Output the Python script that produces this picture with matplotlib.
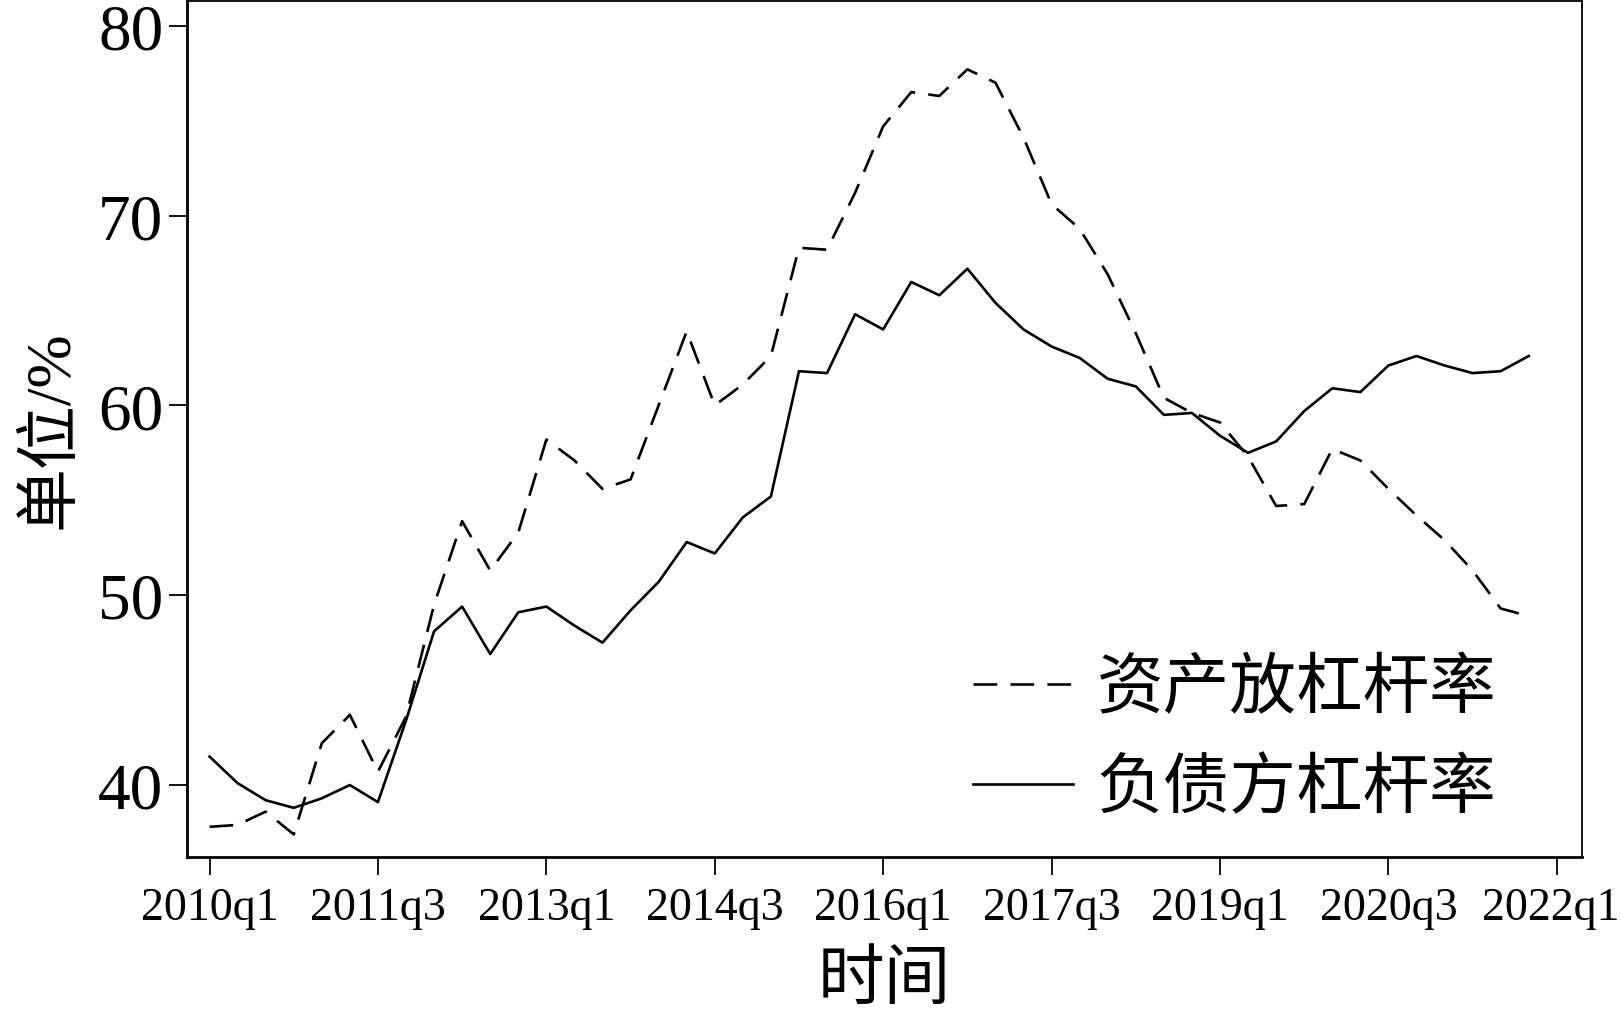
# coding: utf-8
'''
Asset-side vs liability-side leverage, quarterly 2010q1-2021q4
'''

import matplotlib.pyplot as plt
import matplotlib.transforms as mtransforms

# quarter index 0 = 2010q1
quarters = list(range(48))
tick_pos = [0, 6, 12, 18, 24, 30, 36, 42, 48]
tick_labels = ['2010q1', '2011q3', '2013q1', '2014q3', '2016q1',
               '2017q3', '2019q1', '2020q3', '2022q1']

asset_lev = [37.8, 37.9, 38.6, 37.4, 42.2, 43.7, 40.7, 43.6, 49.5, 53.9,
             51.3, 53.3, 58.2, 57.1, 55.6, 56.1, 60.0, 63.9, 60.0, 61.1,
             62.6, 68.3, 68.2, 71.2, 74.7, 76.5, 76.3, 77.7, 77.0, 74.1,
             70.6, 69.3, 66.9, 63.8, 60.4, 59.6, 59.1, 57.3, 54.7, 54.8,
             57.7, 57.1, 55.6, 54.2, 52.9, 51.3, 49.3, 48.9]

liab_lev = [41.5, 40.1, 39.2, 38.8, 39.3, 40.0, 39.1, 43.4, 48.1, 49.4,
            46.9, 49.1, 49.4, 48.4, 47.5, 49.2, 50.7, 52.8, 52.2, 54.1,
            55.2, 61.8, 61.7, 64.8, 64.0, 66.5, 65.8, 67.2, 65.4, 64.0,
            63.1, 62.5, 61.4, 61.0, 59.5, 59.6, 58.4, 57.5, 58.1, 59.7,
            60.9, 60.7, 62.1, 62.6, 62.1, 61.7, 61.8, 62.6]

serif = ['Liberation Serif', 'Noto Sans CJK SC']
cjk = ['Noto Sans CJK SC', 'DejaVu Sans']

fig = plt.figure(figsize=(16.21, 10.12), dpi=100)
ax = fig.add_axes([0.1154, 0.152, 0.8606, 0.846])

ax.plot(quarters, asset_lev, color='black', lw=1.9, dashes=(9, 5), label='资产放杠杆率')
ax.plot(quarters, liab_lev, color='black', lw=1.9, label='负债方杠杆率')

ax.set_xlim(-0.8, 48.9)
ax.set_ylim(36.2, 81.3)
ax.set_xticks(tick_pos)
ax.set_xticklabels(tick_labels, family=serif, fontsize=33)
ax.set_yticks([40, 50, 60, 70, 80])
ax.set_yticklabels(['40', '50', '60', '70', '80'], family=serif, fontsize=47)
ax.tick_params(axis='both', direction='out', length=13, width=1.3, color='black')
ax.tick_params(axis='x', pad=8)
ax.tick_params(axis='y', pad=4)

# last label sits on the figure edge, nudge it in a little
last = ax.get_xticklabels()[-1]
last.set_transform(last.get_transform() + mtransforms.ScaledTranslation(-6 / 100, 0, fig.dpi_scale_trans))

for side in ['left', 'bottom']:
	ax.spines[side].set_linewidth(2.0)
for side in ['top', 'right']:
	ax.spines[side].set_linewidth(1.3)

ax.set_xlabel('时间', family=cjk, fontsize=48, labelpad=12)
ax.set_ylabel('单位/%', family=serif, fontsize=46, labelpad=12)

leg = ax.legend(loc='lower right', bbox_to_anchor=(0.923, 0.186),
                bbox_transform=fig.transFigure, frameon=False,
                prop={'family': cjk, 'size': 48}, handlelength=1.5,
                handletextpad=0.35, labelspacing=0.5, borderpad=0, borderaxespad=0)

plt.savefig('out.png', dpi=100)
